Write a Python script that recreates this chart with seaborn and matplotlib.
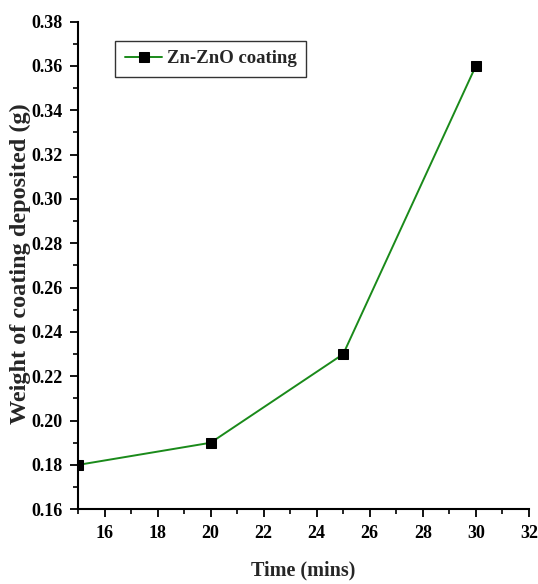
import matplotlib
matplotlib.use("Agg")
import matplotlib.pyplot as plt
from matplotlib.ticker import MultipleLocator, FormatStrFormatter
import seaborn as sns
import pandas as pd

time_mins = [15, 20, 25, 30]
weight_g = [0.18, 0.19, 0.23, 0.36]
series_name = "Zn-ZnO coating"

df = pd.DataFrame({"Time (mins)": time_mins, "Weight": weight_g})

sns.set_style("ticks")
plt.rcParams["font.family"] = ["Liberation Serif", "DejaVu Serif"]
plt.rcParams["font.weight"] = "bold"

fig = plt.figure(figsize=(5.38, 5.84), dpi=100)
ax = fig.add_axes([0.145, 0.128, 0.838, 0.835])

sns.lineplot(data=df, x="Time (mins)", y="Weight", ax=ax, color="#1a8a1a",
             linewidth=1.4, marker="s", markersize=7.5, markerfacecolor="black",
             markeredgecolor="black", label=series_name)

ax.set_xlim(15, 32)
ax.set_ylim(0.16, 0.38)
ax.xaxis.set_major_locator(MultipleLocator(2))
ax.xaxis.set_minor_locator(MultipleLocator(1))
ax.yaxis.set_major_locator(MultipleLocator(0.02))
ax.yaxis.set_minor_locator(MultipleLocator(0.01))
ax.yaxis.set_major_formatter(FormatStrFormatter("%.2f"))
ax.set_xticks([16, 18, 20, 22, 24, 26, 28, 30, 32])

for s in ["top", "right"]:
    ax.spines[s].set_visible(False)
for s in ["left", "bottom"]:
    ax.spines[s].set_linewidth(1.5)
    ax.spines[s].set_color("black")

ax.tick_params(axis="both", which="major", direction="out", length=6, width=1.3,
               labelsize=13, colors="black", pad=5)
ax.tick_params(axis="both", which="minor", direction="out", length=3.5, width=1.2,
               colors="black")
for lbl in ax.get_xticklabels() + ax.get_yticklabels():
    lbl.set_fontweight("bold")

ax.set_xlabel("Time (mins)", fontsize=14.5, fontweight="bold", labelpad=14)
ax.set_ylabel("Weight of coating deposited (g)", fontsize=17.5, fontweight="bold")
ax.yaxis.set_label_coords(-0.104, 0.503)

leg = ax.legend(loc="upper left", bbox_to_anchor=(0.083, 0.961), frameon=True,
                fancybox=False, edgecolor="black", handlelength=2.0,
                handletextpad=0.25, borderpad=0.5, borderaxespad=0.0,
                prop={"size": 13.5, "weight": "bold"})
leg.get_frame().set_linewidth(1.0)

fig.savefig("out.png", dpi=100)
